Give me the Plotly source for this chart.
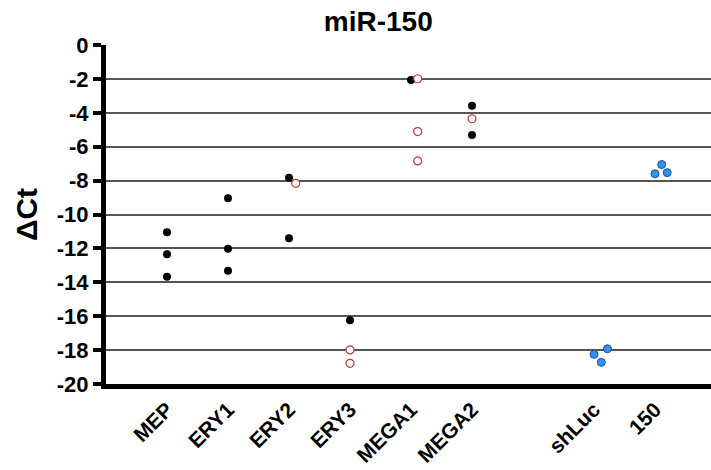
import plotly.graph_objects as go

# ---- data ----
categories = ["MEP", "ERY1", "ERY2", "ERY3", "MEGA1", "MEGA2", "shLuc", "150"]

black_cat = ["MEP", "MEP", "MEP", "ERY1", "ERY1", "ERY1", "ERY2", "ERY2",
             "ERY3", "MEGA1", "MEGA2", "MEGA2"]
black_val = [-11.05, -12.35, -13.67, -9.04, -12.02, -13.32, -7.83, -11.4,
             -16.24, -2.06, -3.58, -5.31]

red_cat = ["ERY2", "ERY3", "ERY3", "MEGA1", "MEGA1", "MEGA1", "MEGA2"]
red_val = [-8.16, -17.99, -18.78, -1.99, -5.11, -6.84, -4.35]

blue_cat = ["shLuc", "shLuc", "shLuc", "150", "150", "150"]
blue_val = [-18.25, -18.72, -17.92, -7.6, -7.05, -7.53]

y_ticks = [0, -2, -4, -6, -8, -10, -12, -14, -16, -18, -20]
y_tick_labels = ["0", "-2", "-4", "-6", "-8", "-10", "-12", "-14", "-16", "-18", "-20"]

# ---- layout helpers (positions on the numeric x scale) ----
cat_pos = {"MEP": 1, "ERY1": 2, "ERY2": 3, "ERY3": 4, "MEGA1": 5, "MEGA2": 6,
           "shLuc": 8, "150": 9}
black_dodge = [0] * len(black_cat)
red_dodge = [0.11, 0, 0, 0.11, 0.11, 0.11, 0]
blue_dodge = [0, 0.12, 0.22, 0, 0.11, 0.2]


def xs(cats, dodge):
    return [cat_pos[c] + d for c, d in zip(cats, dodge)]


FONT = "Liberation Sans, Arial, sans-serif"

fig = go.Figure()
fig.add_trace(go.Scatter(
    x=xs(black_cat, black_dodge), y=black_val, mode="markers",
    marker=dict(size=8, color="black", line=dict(width=0)),
    hoverinfo="y", showlegend=False))
fig.add_trace(go.Scatter(
    x=xs(red_cat, red_dodge), y=red_val, mode="markers",
    marker=dict(size=8, color="white", line=dict(width=1.2, color="#b23a3a")),
    hoverinfo="y", showlegend=False))
fig.add_trace(go.Scatter(
    x=xs(blue_cat, blue_dodge), y=blue_val, mode="markers",
    marker=dict(size=8, color="#2f95f0", line=dict(width=1, color="#1d4f9a")),
    hoverinfo="y", showlegend=False))

fig.update_layout(
    width=711, height=470,
    margin=dict(l=106, r=0, t=45, b=86),
    paper_bgcolor="white", plot_bgcolor="white",
    title=dict(text="miR-150", x=0.532, xanchor="center", y=0.955, yanchor="middle",
               font=dict(family=FONT, size=28, color="black", weight="bold")),
    font=dict(family=FONT, color="black"),
)
fig.update_xaxes(
    range=[0, 9.918], tickmode="array",
    tickvals=[cat_pos[c] for c in categories], ticktext=categories,
    tickangle=-45, ticks="", showgrid=False, zeroline=False, automargin=False,
    showline=True, linecolor="black", linewidth=5,
    tickfont=dict(family=FONT, size=21, color="black", weight="bold"),
)
fig.update_yaxes(
    range=[-20, 0], tickmode="array", tickvals=y_ticks, ticktext=y_tick_labels,
    ticks="outside", ticklen=8, tickwidth=4, tickcolor="black",
    showgrid=True, gridcolor="#555555", gridwidth=1.5, zeroline=False, automargin=False,
    showline=True, linecolor="black", linewidth=5,
    tickfont=dict(family=FONT, size=22, color="black", weight="bold"),
    title=dict(text="ΔCt", standoff=12,
               font=dict(family=FONT, size=30, color="black", weight="bold")),
)

fig.write_html("out.html")
